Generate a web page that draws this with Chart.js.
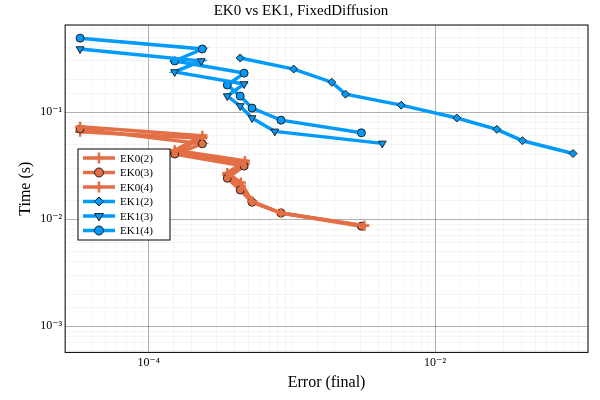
<!DOCTYPE html>
<html>
<head>
<meta charset="UTF-8">
<script src="https://cdn.jsdelivr.net/npm/chart.js"></script>
<style>body{margin:0;background:#fff}</style>
</head>
<body>
<canvas id="c" width="600" height="400"></canvas>
<script>
const ek12x = [4.36e-4, 1.03e-3, 1.9e-3, 2.37e-3, 5.8e-3, 0.0142, 0.027, 0.0408, 0.092];
const ek12y = [0.32, 0.252, 0.19, 0.147, 0.116, 0.088, 0.069, 0.054, 0.041];
const ek13x = [3.32e-5, 2.33e-4, 1.52e-4, 4.64e-4, 3.54e-4, 4.36e-4, 5.27e-4, 7.6e-4, 4.28e-3];
const ek13y = [0.388, 0.300, 0.237, 0.183, 0.141, 0.114, 0.088, 0.066, 0.051];
const ek14x = [3.32e-5, 2.37e-4, 1.52e-4, 4.64e-4, 3.54e-4, 4.36e-4, 5.27e-4, 8.4e-4, 3.06e-3];
const ek14y = [0.49, 0.388, 0.30, 0.231, 0.179, 0.141, 0.109, 0.084, 0.064];
const ek02x = [3.32e-5, 2.37e-4, 1.52e-4, 4.7e-4, 3.54e-4, 4.4e-4, 5.3e-4, 8.4e-4, 3.2e-3];
const ek02y = [0.073, 0.060, 0.044, 0.035, 0.027, 0.022, 0.0146, 0.0114, 0.0087];
const ek03x = [3.32e-5, 2.37e-4, 1.52e-4, 4.64e-4, 3.54e-4, 4.36e-4, 5.27e-4, 8.4e-4, 3.06e-3];
const ek03y = [0.0695, 0.0505, 0.0405, 0.0313, 0.0241, 0.0187, 0.0144, 0.0114, 0.0086];
const ek04x = [3.32e-5, 2.37e-4, 1.52e-4, 4.7e-4, 3.54e-4, 4.4e-4, 5.3e-4, 8.4e-4, 3.2e-3];
const ek04y = [0.0655, 0.057, 0.042, 0.033, 0.026, 0.0205, 0.0146, 0.0114, 0.0087];

const ORANGE = '#e26f46', BLUE = '#009afa';
const pts = (xs, ys) => xs.map((x, i) => ({x: x, y: ys[i]}));
function ds(label, xs, ys, color, style, radius, rot) {
  return {label: label, data: pts(xs, ys), borderColor: color, backgroundColor: color,
    borderWidth: 3.5, pointStyle: style, pointRadius: radius, pointRotation: rot || 0,
    pointBorderColor: style === 'cross' ? color : '#222', pointBorderWidth: style === 'cross' ? 2.5 : 1,
    showLine: true, tension: 0};
}
const sets = [
  ds('EK0(2)', ek02x, ek02y, ORANGE, 'cross', 5),
  ds('EK0(3)', ek03x, ek03y, ORANGE, 'circle', 4),
  ds('EK0(4)', ek04x, ek04y, ORANGE, 'cross', 5),
  ds('EK1(2)', ek12x, ek12y, BLUE, 'rectRot', 4),
  ds('EK1(3)', ek13x, ek13y, BLUE, 'triangle', 4.5, 180),
  ds('EK1(4)', ek14x, ek14y, BLUE, 'circle', 4)
];
const sup = {'-': '⁻', '1': '¹', '2': '²', '3': '³', '4': '⁴'};
const decadeLabel = v => { const e = Math.round(Math.log10(v)); return Math.abs(Math.log10(v) - e) < 1e-6 ? '10' + String(e).split('').map(c => sup[c]).join('') : null; };
const isMajorX = v => v && (Math.abs(v - 1e-4) < 1e-9 || Math.abs(v - 1e-2) < 1e-7);
const FONT = 'Liberation Serif, DejaVu Serif, serif';

const extras = {
  id: 'extras',
  afterDraw(chart) {
    const c = chart.ctx, a = chart.chartArea;
    c.save();
    c.strokeStyle = '#000'; c.lineWidth = 1;
    c.strokeRect(a.left, a.top, a.right - a.left, a.bottom - a.top);
    // legend
    const lx = 78, ly = 149, lw = 92, lh = 91;
    c.fillStyle = '#fff'; c.fillRect(lx, ly, lw, lh);
    c.strokeStyle = '#000'; c.strokeRect(lx, ly, lw, lh);
    c.font = '11px ' + FONT; c.textBaseline = 'middle';
    sets.forEach((d, i) => {
      const y = ly + 9 + i * 14.5;
      c.strokeStyle = d.borderColor; c.lineWidth = 3.5;
      c.beginPath(); c.moveTo(lx + 5, y); c.lineTo(lx + 37, y); c.stroke();
      c.fillStyle = d.backgroundColor;
      c.strokeStyle = d.pointBorderColor; c.lineWidth = d.pointBorderWidth;
      Chart.helpers.drawPoint(c, {pointStyle: d.pointStyle, radius: d.pointRadius + 0.5, rotation: d.pointRotation, borderWidth: d.pointBorderWidth}, lx + 21, y);
      c.fillStyle = '#000';
      c.fillText(d.label, lx + 42, y + 1);
    });
    c.restore();
  }
};

new Chart(document.getElementById('c'), {
  type: 'scatter',
  data: {datasets: sets},
  options: {
    responsive: false, animation: false,
    layout: {padding: {right: 12, top: 0, left: 14, bottom: 8}},
    plugins: {
      legend: {display: false},
      tooltip: {enabled: false},
      title: {display: true, text: 'EK0 vs EK1, FixedDiffusion', color: '#000',
        font: {family: FONT, size: 15, weight: 'normal'}, padding: {top: 2, bottom: 5}}
    },
    scales: {
      x: {type: 'logarithmic', min: 2.61e-5, max: 0.117,
        title: {display: true, text: 'Error (final)', color: '#000', font: {family: FONT, size: 16}, padding: 0},
        ticks: {autoSkip: false, maxRotation: 0, color: '#000', font: {family: FONT, size: 12},
          callback: v => isMajorX(v) ? decadeLabel(v) : ''},
        grid: {drawTicks: false, color: c => {
          const v = c.tick && c.tick.value;
          return isMajorX(v) ? 'rgba(0,0,0,0.3)' : 'rgba(0,0,0,0.04)'; }},
        border: {display: false}},
      y: {type: 'logarithmic', min: 5.7e-4, max: 0.65,
        title: {display: true, text: 'Time (s)', color: '#000', font: {family: FONT, size: 16}, padding: 2},
        ticks: {autoSkip: false, color: '#000', font: {family: FONT, size: 12},
          callback: v => decadeLabel(v) || ''},
        grid: {drawTicks: false, color: c => {
          const v = c.tick && c.tick.value;
          return (v && decadeLabel(v)) ? 'rgba(0,0,0,0.3)' : 'rgba(0,0,0,0.04)'; }},
        border: {display: false}}
    }
  },
  plugins: [extras]
});
</script>
</body>
</html>
